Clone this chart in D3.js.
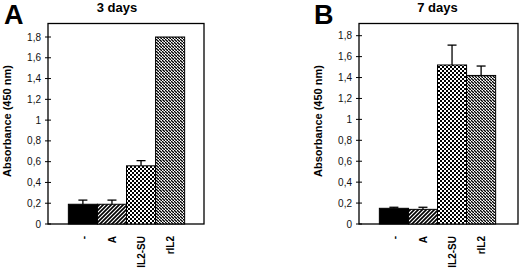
<!DOCTYPE html>
<html>
<head>
<meta charset="utf-8">
<script src="https://cdn.jsdelivr.net/npm/d3@7"></script>
<style>
    body { margin: 0; background: #fff; }
    svg { display: block; font-family: Arial, "Liberation Sans", Helvetica, sans-serif; }
</style>
</head>
<body>
<div id="chart"></div>
<script>
// data
const categories = ["-", "A", "IL2-SU", "rIL2"];
const day3Values = [0.19, 0.19, 0.56, 1.80];
const day3Errors = [0.04, 0.04, 0.05, 0];
const day7Values = [0.15, 0.14, 1.52, 1.42];
const day7Errors = [0.01, 0.02, 0.19, 0.09];
const tickValues = [0, 0.2, 0.4, 0.6, 0.8, 1, 1.2, 1.4, 1.6, 1.8];
const tickLabels = ["0", "0,2", "0,4", "0,6", "0,8", "1", "1,2", "1,4", "1,6", "1,8"];

// fills per category
const fills = ["#000", "url(#hatchUp)", "url(#checker)", "url(#hatchDown)"];

let svg = d3.select("#chart")
    .append("svg")
    .attr("width", 520)
    .attr("height", 269);

// patterns
let defs = svg.append("defs");

let p1 = defs.append("pattern")
    .attr("id", "hatchUp")
    .attr("patternUnits", "userSpaceOnUse")
    .attr("width", 4).attr("height", 4);
p1.append("rect").attr("width", 4).attr("height", 4).attr("fill", "#fff");
p1.append("path")
    .attr("d", "M-1,1 l2,-2 M0,4 l4,-4 M3,5 l2,-2")
    .attr("stroke", "#000").attr("stroke-width", 1.7);

let p2 = defs.append("pattern")
    .attr("id", "checker")
    .attr("patternUnits", "userSpaceOnUse")
    .attr("width", 4).attr("height", 4);
p2.append("rect").attr("width", 4).attr("height", 4).attr("fill", "#fff");
p2.append("rect").attr("width", 2).attr("height", 2).attr("fill", "#000");
p2.append("rect").attr("x", 2).attr("y", 2).attr("width", 2).attr("height", 2).attr("fill", "#000");

let p3 = defs.append("pattern")
    .attr("id", "hatchDown")
    .attr("patternUnits", "userSpaceOnUse")
    .attr("width", 3).attr("height", 3);
p3.append("rect").attr("width", 3).attr("height", 3).attr("fill", "#fff");
p3.append("path")
    .attr("d", "M-1,-1 l2,2 M0,0 l3,3 M2,2 l2,2")
    .attr("stroke", "#000").attr("stroke-width", 1.3);

function drawPanel(opt) {
    let data = categories.map((c, i) => ({
        cat: c, value: opt.values[i], err: opt.errors[i], fill: fills[i]
    }));

    let x = d3.scaleBand()
        .domain(categories)
        .range([opt.left, opt.left + 157])
        .paddingInner(0)
        .paddingOuter(0.7);

    let y = d3.scaleLinear()
        .domain([0, 1.8])
        .range([224, opt.top18]);

    let g = svg.append("g");

    // frame
    g.append("rect")
        .attr("x", opt.left)
        .attr("y", 23.5)
        .attr("width", opt.right - opt.left)
        .attr("height", 224 - 23.5)
        .attr("fill", "none")
        .attr("stroke", "#000")
        .attr("stroke-width", 1.3);

    // y axis ticks crossing the axis line
    g.selectAll(".ytick")
        .data(tickValues)
        .enter()
        .append("line")
        .attr("x1", opt.left - 3)
        .attr("x2", opt.left + 3)
        .attr("y1", d => y(d))
        .attr("y2", d => y(d))
        .attr("stroke", "#000")
        .attr("stroke-width", 1);

    g.selectAll(".ylabel")
        .data(tickValues)
        .enter()
        .append("text")
        .attr("x", opt.left - 7)
        .attr("y", d => y(d) + 3.5)
        .attr("text-anchor", "end")
        .style("font-size", "10px")
        .style("fill", "#111")
        .text((d, i) => tickLabels[i]);

    // bars
    g.selectAll(".bar")
        .data(data)
        .enter()
        .append("rect")
        .attr("x", d => x(d.cat))
        .attr("y", d => y(d.value))
        .attr("width", x.bandwidth())
        .attr("height", d => y(0) - y(d.value))
        .attr("fill", d => d.fill)
        .attr("stroke", "#000")
        .attr("stroke-width", 1);

    // error bars (upper only)
    let eb = g.selectAll(".err")
        .data(data.filter(d => d.err > 0))
        .enter()
        .append("g");
    eb.append("line")
        .attr("x1", d => x(d.cat) + x.bandwidth() / 2)
        .attr("x2", d => x(d.cat) + x.bandwidth() / 2)
        .attr("y1", d => y(d.value))
        .attr("y2", d => y(d.value + d.err))
        .attr("stroke", "#000")
        .attr("stroke-width", 1.3);
    eb.append("line")
        .attr("x1", d => x(d.cat) + x.bandwidth() / 2 - 4.5)
        .attr("x2", d => x(d.cat) + x.bandwidth() / 2 + 4.5)
        .attr("y1", d => y(d.value + d.err))
        .attr("y2", d => y(d.value + d.err))
        .attr("stroke", "#000")
        .attr("stroke-width", 1.3);

    // x labels, rotated
    g.selectAll(".xlabel")
        .data(categories)
        .enter()
        .append("text")
        .attr("transform", d => `translate(${x(d) + x.bandwidth() / 2 + 4},236) rotate(-90)`)
        .attr("text-anchor", "end")
        .style("font-size", "10px")
        .style("font-weight", "bold")
        .text(d => d);

    // y axis title
    g.append("text")
        .attr("transform", `translate(${opt.left - 37},121) rotate(-90)`)
        .attr("text-anchor", "middle")
        .style("font-size", "11px")
        .style("font-weight", "bold")
        .text("Absorbance (450 nm)");

    // panel title
    g.append("text")
        .attr("x", opt.titleX)
        .attr("y", 12)
        .attr("text-anchor", "middle")
        .style("font-size", "13px")
        .style("font-weight", "bold")
        .text(opt.title);

    // panel letter
    g.append("text")
        .attr("x", opt.letterX)
        .attr("y", 24)
        .style("font-size", "27px")
        .style("font-weight", "bold")
        .text(opt.letter);
}

drawPanel({
    left: 48, right: 204, top18: 37,
    values: day3Values, errors: day3Errors,
    title: "3 days", titleX: 117, letter: "A", letterX: 4
});

drawPanel({
    left: 359, right: 518, top18: 35.7,
    values: day7Values, errors: day7Errors,
    title: "7 days", titleX: 437.5, letter: "B", letterX: 314
});
</script>
</body>
</html>
